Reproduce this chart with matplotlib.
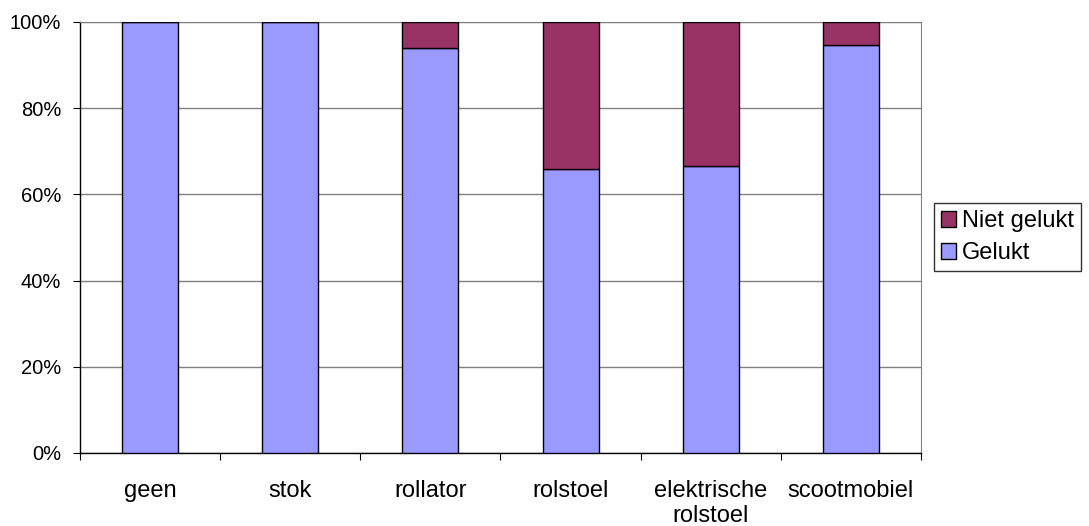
import matplotlib
matplotlib.use("Agg")
import matplotlib.pyplot as plt
import numpy as np

categories = ["geen", "stok", "rollator", "rolstoel", "elektrische\nrolstoel", "scootmobiel"]
gelukt = [100.0, 100.0, 94.0, 66.0, 66.7, 94.7]
niet_gelukt = [0.0, 0.0, 6.0, 34.0, 33.3, 5.3]
y_ticks = [0, 20, 40, 60, 80, 100]

plt.rcParams["font.family"] = ["Liberation Sans", "DejaVu Sans"]

W, H = 1089, 526
fig = plt.figure(figsize=(W / 100, H / 100), dpi=100)
ax = fig.add_axes([80 / W, 1 - 453 / H, 841 / W, 431 / H])

x = np.arange(len(categories))
b1 = ax.bar(x, gelukt, width=0.4, color="#9999FF", edgecolor="black", linewidth=1.0, label="Gelukt", zorder=3)
b2 = ax.bar(x, niet_gelukt, width=0.4, bottom=gelukt, color="#993366", edgecolor="black", linewidth=1.0,
            label="Niet gelukt", zorder=3)

ax.set_xlim(-0.5, len(categories) - 0.5)
ax.set_ylim(0, 100)
ax.set_yticks(y_ticks)
ax.set_yticklabels([f"{v}%" for v in y_ticks], fontsize=14.5)
ax.yaxis.grid(True, color="#808080", linewidth=1.0, zorder=0)

ax.set_xticks(np.arange(-0.5, len(categories), 1.0))
ax.set_xticklabels([])
ax.set_xticks(x, minor=True)
ax.set_xticklabels(categories, minor=True, fontsize=17, linespacing=1.15)
ax.tick_params(axis="x", which="minor", length=0, pad=19.5)
ax.tick_params(axis="x", which="major", length=5, direction="out", color="black")
ax.tick_params(axis="y", length=5, direction="out", pad=8.5)

for s in ["left", "bottom"]:
    ax.spines[s].set_color("black")
    ax.spines[s].set_linewidth(1.0)
ax.spines["right"].set_color("#808080")
ax.spines["top"].set_color("#808080")

handles = [b2, b1]
leg = fig.legend(handles, ["Niet gelukt", "Gelukt"], loc="upper left",
                 bbox_to_anchor=(934 / W, 1 - 203 / H), bbox_transform=fig.transFigure,
                 frameon=True, fancybox=False, edgecolor="black", fontsize=17,
                 handlelength=0.65, handleheight=0.65, handletextpad=0.25, borderpad=0.3,
                 labelspacing=0.42, borderaxespad=0)
leg.get_frame().set_linewidth(1.0)

fig.savefig("out.png", dpi=100)
